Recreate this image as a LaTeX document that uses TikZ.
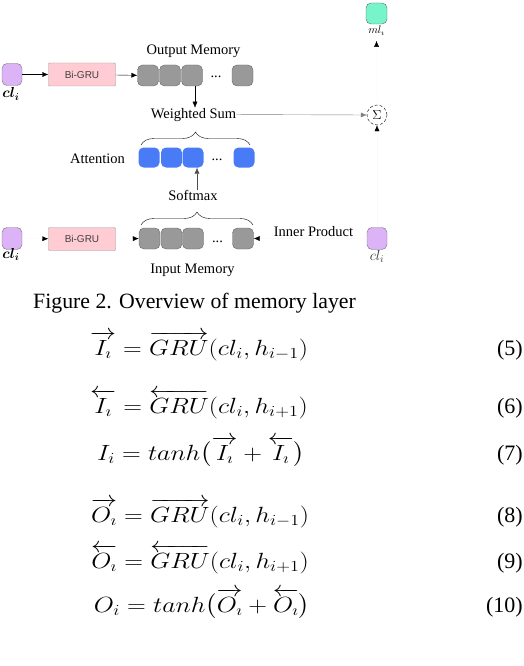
\RequirePackage{fix-cm}
\documentclass[tikz,border=0pt]{standalone}
\usepackage{amsmath,bm,graphicx}
\usepackage{fontspec}
\setmainfont{Liberation Serif}
\newfontfamily\grufont{Liberation Sans}
\usetikzlibrary{arrows.meta,decorations.pathreplacing,positioning}

\definecolor{memgray}{HTML}{999999}
\definecolor{attblue}{HTML}{4A7BF7}
\definecolor{clpurple}{HTML}{DDB3F8}
\definecolor{mlgreen}{HTML}{77F4C9}
\definecolor{grupink}{HTML}{FFCCD3}

\newcommand{\wideeq}[1]{\scalebox{1.18}[1]{$#1$}}

\tikzset{
  cell/.style={rectangle, rounded corners=5pt, minimum width=21pt, minimum height=21pt, inner sep=0pt},
  memcell/.style={cell, fill=memgray, draw=black!60},
  attcell/.style={cell, fill=attblue},
  clbox/.style={cell, minimum width=20pt, minimum height=22pt, fill=clpurple, draw=black!55},
  grubox/.style={rectangle, rounded corners=1pt, minimum width=67pt, minimum height=23pt, fill=grupink, draw=black!40, font=\grufont\fontsize{10}{12}\selectfont, text=black!75},
  lbl/.style={font=\fontsize{14.5}{17}\selectfont, inner sep=0pt},
  tip/.style={-{Latex[length=6pt,width=5pt]}},
  faint/.style={draw=black!2, -{Latex[length=6pt,width=5pt,color=black]}},
  brc/.style={decorate, decoration={brace, amplitude=13pt}},
  eqn/.style={font=\fontsize{22}{26}\selectfont, anchor=base, inner sep=0pt},
  eqno/.style={font=\fontsize{22}{26}\selectfont, anchor=base east, inner sep=0pt},
}

\begin{document}
\begin{tikzpicture}[x=1pt, y=-1pt]
\useasboundingbox (0,0) rectangle (524,666);
% output side
\node[clbox] (clA) at (12,74.5) {};
\node[lbl, anchor=base] (clAl) at (11,98) {$\bm{cl_i}$};
\node[grubox] (gruA) at (82,74.5) {Bi-GRU};
\foreach \k/\x in {1/148,2/170,3/192,n/242.5} \node[memcell] (o\k) at (\x,75.5) {};
\node[lbl, anchor=base] (odots) at (216,78) {...};
\node[lbl, anchor=base] (outl) at (193.5,55) {Output Memory};
\node[lbl, anchor=base] (ws) at (193.5,118) {Weighted Sum};
\node[circle, draw, densely dashed, thin, minimum size=20pt, inner sep=0pt, font=\fontsize{13}{15}\selectfont] (sum) at (377,115) {$\Sigma$};
\node[cell, fill=mlgreen, draw=black!60] (ml) at (376.5,13.5) {};
\node[lbl, anchor=base, font=\fontsize{11}{13}\selectfont] (mll) at (376.5,34) {$ml_\imath$};
% attention
\foreach \k/\x in {1/149,2/171.5,3/193} \node[attcell, minimum height=20pt] (a\k) at (\x,157.5) {};
\node[attcell, minimum height=20pt] (an) at (244,157.5) {};
\node[lbl, anchor=base] (adots) at (217,160) {...};
\node[lbl, anchor=base] (att) at (97.5,163) {Attention};
\node[lbl, anchor=base] (sm) at (193,200) {Softmax};
% input side
\node[clbox] (clB) at (12,238.5) {};
\node[lbl, anchor=base] (clBl) at (11,258) {$\bm{cl_i}$};
\node[grubox] (gruB) at (82,239) {Bi-GRU};
\foreach \k/\x in {1/149.5,2/171.5,3/193,n/243} \node[memcell] (i\k) at (\x,238.5) {};
\node[lbl, anchor=base] (idots) at (217.5,242) {...};
\node[lbl, anchor=base] (inl) at (192.5,273) {Input Memory};
\node[lbl, anchor=base] (ip) at (313.5,236) {Inner Product};
\node[clbox] (clC) at (377,238.5) {};
\node[lbl, anchor=base, text=black!80] (clCl) at (377,260) {$cl_i$};
% connectors
\draw[tip] (clA) -- (gruA);
\draw[tip] (gruA) -- (o1);
\draw[tip] (o3.south -| 195,0) -- (ws.north -| 195,0);
\draw[tip, draw=black!50] (ws.east) -- (sum.west);
\draw[faint] (sum.north) -- ([yshift=-5pt]mll.south);
\draw[faint] (clC.north) -- (sum.south);
\draw[tip, black!70] (sm.north -| 197,0) -- (a3.south -| 197,0);
\draw[faint] (clB) -- (gruB);
\draw[faint] (gruB) -- (i1);
\draw[faint] (clC) -- (in);
\draw[brc] (141,145) -- (250,145);
\draw[brc] (141,225) -- (253,225);
% text below
\node[anchor=base west, inner sep=0pt, font=\fontsize{21.8}{25}\selectfont] (cap) at (33,308) {Figure 2. Overview of memory layer};
\node[eqn] (e5) at (199,355) {\wideeq{\overrightarrow{I_\imath} = \overrightarrow{GRU}(cl_i, h_{i-1})}};
\node[eqn] (e6) at (199,413) {\wideeq{\overleftarrow{I_\imath} = \overleftarrow{GRU}(cl_i, h_{i+1})}};
\node[eqn] (e7) at (201,460) {\wideeq{I_i = tanh\bigl(\overrightarrow{I_\imath} + \overleftarrow{I_\imath}\bigr)}};
\node[eqn] (e8) at (200,522) {\wideeq{\overrightarrow{O_\imath} = \overrightarrow{GRU}(cl_i, h_{i-1})}};
\node[eqn] (e9) at (200,568) {\wideeq{\overleftarrow{O_\imath} = \overleftarrow{GRU}(cl_i, h_{i+1})}};
\node[eqn] (e10) at (202,612) {\wideeq{O_i = tanh\bigl(\overrightarrow{O_\imath} + \overleftarrow{O_\imath}\bigr)}};
\foreach \n/\y in {5/355,6/413,7/460,8/522,9/568,10/612} \node[eqno] (n\n) at (523,\y) {(\n)};
\end{tikzpicture}
\end{document}
